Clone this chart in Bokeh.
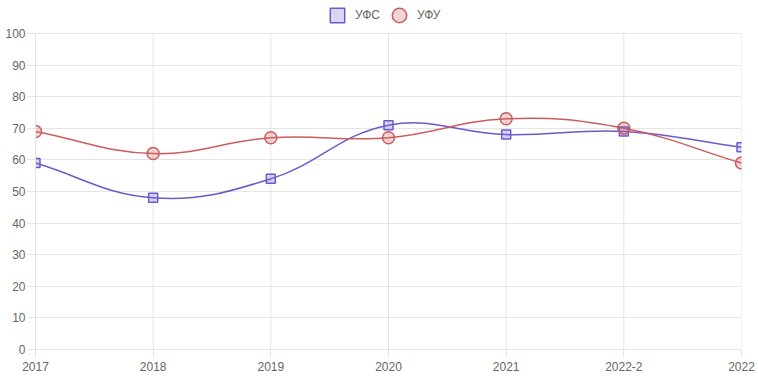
import math
from bokeh.plotting import figure
from bokeh.models import ColumnDataSource, Legend, LegendItem, Range1d, FixedTicker
from bokeh.embed import file_html
from bokeh.resources import INLINE

categories = ["2017", "2018", "2019", "2020", "2021", "2022-2", "2022"]
ufs = [59, 48, 54, 71, 68, 69, 64]
ufu = [69, 62, 67, 67, 73, 70, 59]
series_names = ["УФС", "УФУ"]
y_ticks = list(range(0, 101, 10))

BLUE = "#6a5acd"
RED = "#cd5c5c"
GRID = "#e5e5e5"
TXT = "#666666"
FONT = "Liberation Sans"

W, H = 758, 379
ML, MR, MB = 35, 17, 30
LEG_H = 33                      # space above the y=100 line kept for the legend
FW = W - ML - MR
FH_TOT = H - MB                 # frame reaches the top edge
FH = FH_TOT - LEG_H             # height of the 0..100 data area
YMAX = 100.0 * FH_TOT / FH

xs = list(range(len(categories)))
sx = FW / (len(categories) - 1)
sy = FH / 100.0


def spline(xv, yv, t=0.4):
    P = [(x * sx, y * sy) for x, y in zip(xv, yv)]
    n = len(P)
    cprev, cnext = [], []
    for i in range(n):
        cur = P[i]
        prv = P[i - 1] if i > 0 else cur
        nxt = P[i + 1] if i < n - 1 else cur
        d01 = math.hypot(cur[0] - prv[0], cur[1] - prv[1])
        d12 = math.hypot(nxt[0] - cur[0], nxt[1] - cur[1])
        tot = d01 + d12
        s01 = d01 / tot if tot else 0
        s12 = d12 / tot if tot else 0
        fa, fb = t * s01, t * s12
        dx, dy = nxt[0] - prv[0], nxt[1] - prv[1]
        cprev.append((cur[0] - fa * dx, cur[1] - fa * dy))
        cnext.append((cur[0] + fb * dx, cur[1] + fb * dy))
    d = dict(x0=[], y0=[], x1=[], y1=[], cx0=[], cy0=[], cx1=[], cy1=[])
    for i in range(n - 1):
        d["x0"].append(xv[i]); d["y0"].append(yv[i])
        d["x1"].append(xv[i + 1]); d["y1"].append(yv[i + 1])
        d["cx0"].append(cnext[i][0] / sx); d["cy0"].append(min(max(cnext[i][1] / sy, 0), 100))
        d["cx1"].append(cprev[i + 1][0] / sx); d["cy1"].append(min(max(cprev[i + 1][1] / sy, 0), 100))
    return ColumnDataSource(d)


p = figure(width=W, height=H, output_backend="svg", toolbar_location=None,
           x_range=Range1d(0, len(categories) - 1), y_range=Range1d(0, YMAX),
           min_border_left=ML, min_border_right=MR, min_border_top=0, min_border_bottom=MB)
p.outline_line_color = None
p.background_fill_color = "white"

for ax in (p.xaxis[0], p.yaxis[0]):
    ax.axis_line_color = GRID
    ax.major_tick_line_color = GRID
    ax.minor_tick_line_color = None
    ax.major_tick_in = 0
    ax.major_tick_out = 8
    ax.major_label_text_color = TXT
    ax.major_label_text_font = FONT
    ax.major_label_text_font_size = "12px"
p.xaxis[0].major_label_standoff = 4
p.yaxis[0].major_label_standoff = 2
p.xaxis[0].ticker = FixedTicker(ticks=xs)
p.xaxis[0].major_label_overrides = {i: c for i, c in enumerate(categories)}
p.yaxis[0].ticker = FixedTicker(ticks=y_ticks)
p.yaxis[0].bounds = (y_ticks[0], y_ticks[-1])
p.xgrid.grid_line_color = None
p.ygrid.grid_line_color = GRID

# vertical grid lines limited to the 0..100 area
p.segment(x0=xs, y0=[y_ticks[0]] * len(xs), x1=xs, y1=[y_ticks[-1]] * len(xs),
          line_color=GRID, line_width=1)

p.bezier("x0", "y0", "x1", "y1", "cx0", "cy0", "cx1", "cy1", source=spline(xs, ufs),
         line_color=BLUE, line_width=1.5)
p.bezier("x0", "y0", "x1", "y1", "cx0", "cy0", "cx1", "cy1", source=spline(xs, ufu),
         line_color=RED, line_width=1.5)

r1 = p.scatter(xs, ufs, marker="square", size=9, line_color=BLUE, line_width=1.5,
               fill_color=BLUE, fill_alpha=0.25)
r2 = p.scatter(xs, ufu, marker="circle", size=12, line_color=RED, line_width=1.5,
               fill_color=RED, fill_alpha=0.25)

leg = Legend(items=[LegendItem(label=series_names[0], renderers=[r1]),
                    LegendItem(label=series_names[1], renderers=[r2])],
             orientation="horizontal", location=(284, FH_TOT - 33),
             glyph_width=36, glyph_height=36, label_standoff=-5, spacing=1,
             padding=0, margin=0, border_line_alpha=0, background_fill_alpha=0,
             label_text_font=FONT, label_text_font_size="12px", label_text_color=TXT)
p.add_layout(leg, "center")

open("out.html", "w").write(file_html(p, INLINE))
